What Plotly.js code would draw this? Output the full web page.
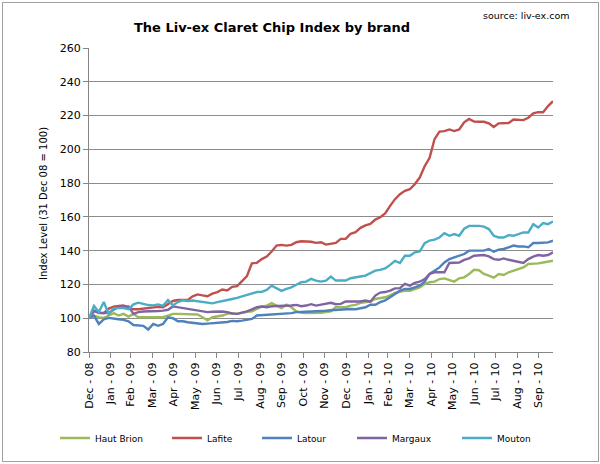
<!DOCTYPE html>
<html>
<head>
<meta charset="utf-8">
<script src="https://cdn.plot.ly/plotly-3.0.1.min.js"></script>
<style>
  html, body { margin: 0; padding: 0; background: #fff; }
  #chart { width: 600px; height: 464px; }
  #frame { position: absolute; left: 2px; top: 2px; width: 595px; height: 458px;
           border: 1px solid #a0a0a0; pointer-events: none; }
</style>
</head>
<body>
<div id="chart"></div>
<div id="frame"></div>
<script>
// Weekly index values, 31 Dec 08 = 100
const startDate = "2008-12-31";

const hautBrion = [
  100, 101.4, 100.6, 100.2, 101.6, 103, 101.6, 102.6, 101, 102.6,
  100.6, 100.6, 101, 100.6, 101, 100.6, 101.6, 102.6, 102.6, 102.6,
  102.6, 102.6, 102.2, 100.6, 98.8, 100.6, 101, 101.6, 102.6, 103,
  102.6, 103.4, 103.8, 104.1, 105.5, 106.9, 107.5, 108.9, 107.5, 106,
  108, 106.5, 104, 103.2, 103, 103, 103, 103.2, 103.6, 104.1,
  106.5, 106.5, 106.5, 107.5, 107.9, 109.1, 109.5, 109.9, 111.4, 111.8,
  112.4, 113.5, 115, 115.7, 116.3, 116.3, 117.3, 118.3, 120.3, 121.3,
  121.7, 123.2, 123.6, 122.8, 121.7, 123.6, 124.2, 126.2, 128.7, 128.4,
  126.2, 125.2, 124, 126.2, 125.6, 127.2, 128.1, 129.1, 130.1, 132.1,
  132.1, 132.5, 133, 133.5, 134
];

const lafite = [
  100, 104.3, 103.3, 103, 105.7, 106.9, 107.3, 107.5, 106.3, 105.3,
  105.3, 105.6, 105.9, 106.2, 106.7, 106.5, 108.2, 110.2, 110.8, 110.8,
  110.8, 113, 114.1, 113.5, 113, 114.5, 115.5, 117, 116.5, 118.6,
  119, 122, 125, 132.5, 132.8, 135, 136.5, 139.5, 143, 143.4,
  143, 143.4, 145, 145.6, 145.6, 145.3, 144.6, 145, 143.6, 144,
  144.6, 147, 147, 150, 151, 153.5, 155, 155.8, 158.4, 159.8,
  162, 166.5, 170.5, 173.4, 175.4, 176.4, 179.3, 183.3, 190, 195,
  206, 210.5, 210.8, 211.8, 210.8, 211.8, 216, 218, 216.5, 216.3,
  216.3, 215.4, 213.2, 215.4, 215.4, 215.6, 217.7, 217.3, 217.3, 218.7,
  221.3, 222, 222, 225.6, 228.5
];

const latour = [
  100, 101.6, 96.6, 99.4, 100.2, 99.6, 99.4, 99, 98.2, 96,
  95.7, 95.5, 93.3, 96.6, 95.5, 96.6, 100.6, 100, 98.2, 98.2,
  97.6, 97.2, 96.8, 96.6, 96.8, 97, 97.2, 97.3, 97.8, 98.4,
  98.2, 98.6, 99, 99.6, 101.6, 101.8, 102, 102, 102.6, 102.4,
  103, 103, 103.6, 103.6, 104, 104, 104.1, 104.1, 104.4, 104.7,
  105, 105.1, 105.3, 105.5, 105.3, 106, 106.5, 108, 108, 109.5,
  110.6, 112.4, 114.4, 116.3, 117.3, 117.3, 118.3, 119.3, 121.6, 126.2,
  128.1, 130.1, 133, 135, 136, 137, 138, 140, 140, 140,
  140, 141, 139.4, 140.6, 141, 142, 143, 142.5, 142.5, 142,
  144.5, 144.5, 144.9, 144.9, 145.9
];

const margaux = [
  100, 104.5, 103, 103.2, 103.2, 105, 106.8, 107, 107, 102.6,
  103.6, 104, 104, 104.1, 104.3, 104.5, 105, 107, 106.5, 106.3,
  105.5, 105, 104.6, 104.1, 103.6, 103.8, 104.1, 104, 103.6, 102.8,
  102.6, 103.2, 104.1, 105.2, 106.5, 106.9, 106.5, 107.1, 107.1, 107.3,
  107.5, 107.5, 107.9, 107.1, 107.5, 108.3, 107.5, 108.1, 108.4, 109.1,
  108.3, 108.5, 109.9, 109.9, 109.5, 109.9, 110.5, 109.8, 113.4, 115.2,
  115.5, 116.3, 117.7, 117.8, 120.3, 119.3, 120.9, 121.6, 123.2, 126.2,
  127.2, 127.2, 127.2, 132.7, 132.7, 133, 134.5, 135.5, 137, 137.4,
  137.4, 136.6, 135, 134.6, 135.4, 134.6, 134, 133.5, 132.7, 135,
  136.5, 137.4, 137, 137.4, 139
];

const mouton = [
  100, 107.3, 103.7, 109.6, 102.4, 105.9, 106, 106, 105.3, 108.2,
  109.2, 108.4, 107.8, 107.6, 108.2, 107.3, 110.8, 107.6, 109.6, 110.6,
  110.2, 110.5, 110, 109.6, 109, 108.8, 109.5, 110, 110.8, 111.4,
  112, 112.8, 113.7, 114.4, 115.5, 115.6, 116.8, 119.3, 117.5, 116.2,
  117.4, 118.3, 119.8, 121.3, 121.7, 123.3, 122.3, 121.7, 122.3, 124.7,
  122.3, 122.3, 122.3, 123.7, 124, 124.7, 125.2, 126.6, 128.2, 128.6,
  129.5, 131.6, 134, 132.7, 137, 137, 139, 139.5, 144.5, 146,
  146.5, 147.8, 150.4, 148.8, 149.8, 148.8, 153, 154.7, 154.7, 154.7,
  154.2, 152.8, 148.8, 147.8, 147.8, 149.2, 148.8, 149.8, 150.8, 150.8,
  155.7, 153.7, 156.3, 155.7, 157.3
];

// Month-end ticks on the date axis
const tickDates = [
  "2008-12-31", "2009-01-31", "2009-02-28", "2009-03-31", "2009-04-30",
  "2009-05-31", "2009-06-30", "2009-07-31", "2009-08-31", "2009-09-30",
  "2009-10-31", "2009-11-30", "2009-12-31", "2010-01-31", "2010-02-28",
  "2010-03-31", "2010-04-30", "2010-05-31", "2010-06-30", "2010-07-31",
  "2010-08-31", "2010-09-30"
];
const tickLabels = [
  "Dec - 08", "Jan - 09", "Feb - 09", "Mar - 09", "Apr - 09",
  "May - 09", "Jun - 09", "Jul - 09", "Aug - 09", "Sep - 09",
  "Oct - 09", "Nov - 09", "Dec - 09", "Jan - 10", "Feb - 10",
  "Mar - 10", "Apr - 10", "May - 10", "Jun - 10", "Jul - 10",
  "Aug - 10", "Sep - 10"
];

const brands = ["Haut Brion", "Lafite", "Latour", "Margaux", "Mouton"];
const seriesValues = [hautBrion, lafite, latour, margaux, mouton];
const colors = ["#9BBB59", "#C0504D", "#4F81BD", "#8064A2", "#4BACC6"];

// Weekly dates starting on the base date
function weeklyDates(start, n) {
  const out = [];
  const d0 = new Date(start + "T00:00:00Z");
  for (let i = 0; i < n; i++) {
    const d = new Date(d0.getTime() + i * 7 * 86400000);
    out.push(d.toISOString().slice(0, 10));
  }
  return out;
}

const dates = weeklyDates(startDate, lafite.length);

// Legend boxes placed like the Excel legend (pixel x of each entry)
const plotLeft = 89, plotWidth = 464, plotTop = 48, plotHeight = 304;
const legendPx = [55, 167, 257, 352, 457];
const legendNames = ["legend", "legend2", "legend3", "legend4", "legend5"];

const traces = brands.map((name, k) => ({
  x: dates,
  y: seriesValues[k],
  type: "scatter",
  mode: "lines",
  name: name,
  legend: legendNames[k],
  line: { color: colors[k], width: 2.4 },
  hoverinfo: "skip",
}));

const font = { family: "DejaVu Sans, Verdana, sans-serif", color: "#000" };

const layout = {
  width: 600,
  height: 464,
  margin: { l: plotLeft, r: 600 - plotLeft - plotWidth, t: plotTop, b: 464 - plotTop - plotHeight },
  paper_bgcolor: "#fff",
  plot_bgcolor: "#fff",
  font: font,
  title: {
    text: "<b>The Liv-ex Claret Chip Index by brand</b>",
    font: { family: font.family, size: 13, color: "#000" },
    x: 272 / 600,
    xanchor: "center",
    y: 1 - 27 / 464,
    yanchor: "middle",
  },
  xaxis: {
    type: "date",
    range: [dates[0], dates[dates.length - 1]],
    tickvals: tickDates,
    ticktext: tickLabels,
    tickangle: -90,
    tickfont: { family: font.family, size: 11, color: "#000" },
    ticks: "outside",
    ticklen: 5,
    tickcolor: "#868686",
    showline: true,
    linecolor: "#868686",
    linewidth: 1,
    showgrid: false,
    zeroline: false,
    fixedrange: true,
  },
  yaxis: {
    range: [80, 260],
    dtick: 20,
    tick0: 80,
    tickfont: { family: font.family, size: 11, color: "#000" },
    ticks: "outside",
    ticklen: 5,
    tickcolor: "#868686",
    showline: true,
    linecolor: "#868686",
    linewidth: 1,
    gridcolor: "#8c8c8c",
    gridwidth: 1,
    zeroline: false,
    fixedrange: true,
  },
  annotations: [
    {
      text: "source: liv-ex.com",
      xref: "paper",
      yref: "paper",
      x: (571 - plotLeft) / plotWidth,
      xanchor: "right",
      y: (plotTop + plotHeight - 15) / plotHeight,
      yanchor: "middle",
      showarrow: false,
      font: { family: font.family, size: 9.5, color: "#000" },
    },
    {
      // y axis title, placed where Excel puts it
      text: "Index Level (31 Dec 08 = 100)",
      xref: "paper",
      yref: "paper",
      x: (44 - plotLeft) / plotWidth,
      xanchor: "center",
      y: (plotTop + plotHeight - 204) / plotHeight,
      yanchor: "middle",
      textangle: -90,
      showarrow: false,
      font: { family: font.family, size: 10, color: "#000" },
    },
  ],
  showlegend: true,
};

legendNames.forEach((ln, k) => {
  layout[ln] = {
    orientation: "h",
    x: (legendPx[k] - plotLeft) / plotWidth,
    xanchor: "left",
    y: (plotTop + plotHeight - 438) / plotHeight,
    yanchor: "middle",
    font: { family: font.family, size: 9, color: "#000" },
    bgcolor: "rgba(0,0,0,0)",
  };
});

Plotly.newPlot("chart", traces, layout, { displayModeBar: false, staticPlot: true });
</script>
</body>
</html>
